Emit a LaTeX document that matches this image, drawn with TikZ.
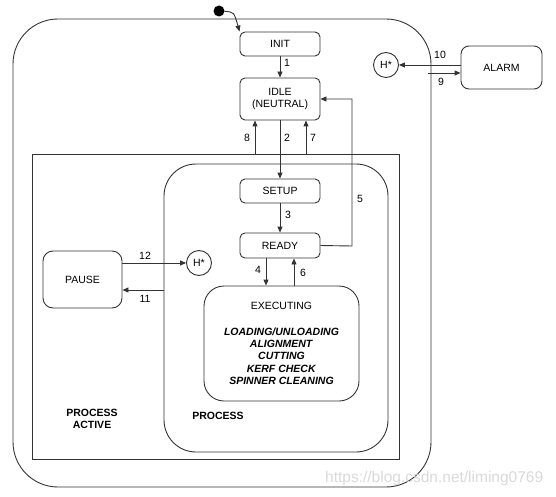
\documentclass[tikz,border=0pt]{standalone}
\usepackage{fontspec}
\setmainfont{Liberation Sans}
\usetikzlibrary{arrows.meta}
\definecolor{ln}{HTML}{333333}
\tikzset{
  every node/.style={font=\fontsize{10.5}{12.3}\selectfont, text=black},
  st/.style={draw=ln, line width=0.9pt, rounded corners=5pt, inner sep=0pt, align=center},
  hist/.style={draw=ln, line width=0.9pt, circle, minimum size=25pt, inner sep=0pt},
  cont/.style={draw=ln, line width=0.9pt},
  arr/.style={draw=ln, line width=0.9pt, -{Triangle[length=6pt,width=5pt]}},
  lbl/.style={inner sep=0pt},
  blbl/.style={inner sep=0pt, font=\fontsize{10.5}{12.3}\selectfont\bfseries, align=center}
}
\begin{document}
\begin{tikzpicture}[x=1pt,y=-1pt]
\useasboundingbox (0,0) rectangle (556,497);
% containers
\draw[cont, rounded corners=45pt] (13,19) rectangle (431,487);
\draw[cont] (32,154) rectangle (399,459);
\draw[cont, rounded corners=32pt] (164,164) rectangle (388,452);
% states
\node[st, minimum width=80pt, minimum height=24pt] (init) at (280,44) {INIT};
\node[st, minimum width=80pt, minimum height=42pt] (idle) at (280,99) {IDLE\\(NEUTRAL)};
\node[st, minimum width=80pt, minimum height=24pt] (setup) at (280,191) {SETUP};
\node[st, minimum width=80pt, minimum height=25pt] (ready) at (280,245.5) {READY};
\node[st, rounded corners=20pt, minimum width=155pt, minimum height=115pt] (exec) at (281.5,343.5)
  {EXECUTING\\[13pt]\textbf{\textit{LOADING/UNLOADING}}\\\textbf{\textit{ALIGNMENT}}\\\textbf{\textit{CUTTING}}\\\textbf{\textit{KERF CHECK}}\\\textbf{\textit{SPINNER CLEANING}}};
\node[st, rounded corners=10pt, minimum width=79pt, minimum height=57pt] (pause) at (82.5,279.5) {PAUSE};
\node[st, rounded corners=8pt, minimum width=81pt, minimum height=43pt] (alarm) at (501.5,67.5) {ALARM};
\node[hist] (h1) at (386,65) {H*};
\node[hist] (h2) at (199,263) {H*};
\node[circle, fill=black, inner sep=0pt, minimum size=11pt] (start) at (219,11) {};
% labels of containers
\node[blbl] (pal) at (92,419) {PROCESS\\ACTIVE};
\node[blbl] (pl) at (218,416) {PROCESS};
% free-end coordinates
\coordinate (c8) at (255,154);
\coordinate (c7) at (306,154);
\coordinate (c5) at (352,246);
\coordinate (c9) at (428,73);
\coordinate (c11) at (164,290);
% connectors
\draw[arr] (start) .. controls (234,12) .. (init.north west);
\draw[arr] (init) -- (idle);
\draw[arr] (idle.south) -- (setup.north);
\draw[arr] (c8) -- (c8 |- idle.south);
\draw[arr] (c7) -- (c7 |- idle.south);
\draw[arr] (setup) -- (ready);
\draw[arr] (ready.east) -- (c5) -- (c5 |- idle.east) -- (idle.east);
\draw[arr] ([xshift=-14pt]ready.south) -- ([xshift=-15.5pt]exec.north);
\draw[arr] ([xshift=12.5pt]exec.north) -- ([xshift=14pt]ready.south);
\draw[arr] (alarm.west |- h1) -- (h1.east);
\draw[arr] (c9) -- (c9 -| alarm.west);
\draw[arr] (pause.east |- h2) -- (h2.west);
\draw[arr] (c11) -- (c11 -| pause.east);
% connector labels
\node[lbl] (l1) at (287,63) {1};
\node[lbl] (l2) at (287,138) {2};
\node[lbl] (l8) at (247,138) {8};
\node[lbl] (l7) at (313,138) {7};
\node[lbl] (l3) at (288,215) {3};
\node[lbl] (l5) at (360,199) {5};
\node[lbl] (l4) at (258,270) {4};
\node[lbl] (l6) at (303,273) {6};
\node[lbl] (l10) at (440,55) {10};
\node[lbl] (l9) at (441,82) {9};
\node[lbl] (l12) at (145,256) {12};
\node[lbl] (l11) at (145,299) {11};
% watermark
\node[anchor=west, inner sep=0pt, font=\fontsize{15.5}{17}\selectfont, text=black!15] (wm) at (325,478) {https://blog.csdn.net/liming0769};
\end{tikzpicture}
\end{document}
